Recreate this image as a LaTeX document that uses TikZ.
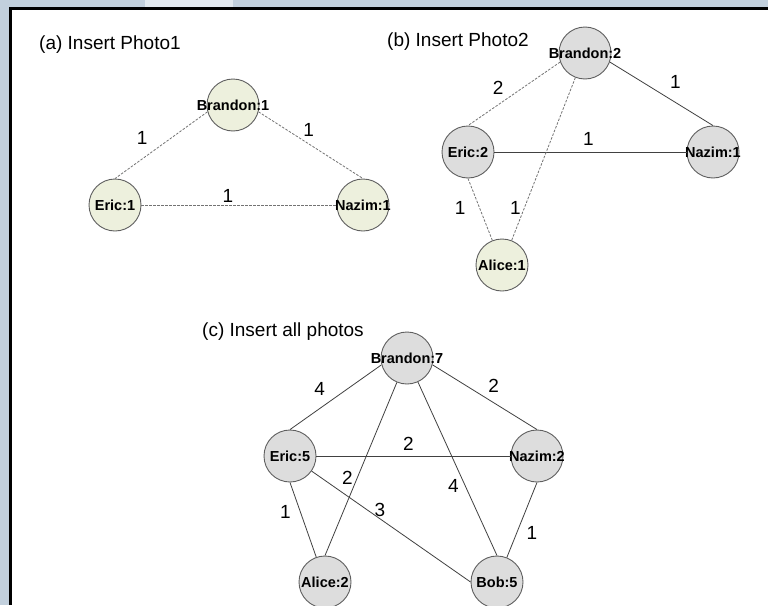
\documentclass[tikz,border=0pt]{standalone}
\usepackage{fontspec}
\setmainfont{Liberation Sans}
\usepackage{tikz}
\usetikzlibrary{positioning}
\definecolor{pagebg}{RGB}{194,208,221}
\definecolor{pagehl}{RGB}{226,233,239}
\definecolor{nodegreen}{RGB}{237,240,221}
\definecolor{nodegray}{RGB}{221,221,221}
\definecolor{rimgray}{RGB}{95,95,95}
\definecolor{linkgray}{RGB}{65,65,65}
\tikzset{
  vtx/.style   = {circle, draw=rimgray, line width=0.9pt, minimum size=52pt, inner sep=0pt, fill=nodegreen, font={\fontsize{14.5}{14.5}\selectfont\bfseries}},
  gvtx/.style  = {vtx, fill=nodegray},
  link/.style  = {draw=linkgray, line width=0.8pt},
  dlink/.style = {draw=black!55, line width=0.8pt, dash pattern=on 2.5pt off 1.5pt},
  wlab/.style  = {inner sep=0pt, font={\fontsize{19}{19}\selectfont}},
  ttl/.style   = {inner sep=0pt, anchor=west, font={\fontsize{19}{21}\selectfont}},
}
\newcommand{\vname}[1]{\makebox[0pt]{#1}}

\begin{document}
\begin{tikzpicture}[x=1pt, y=-1pt, on grid]
  \useasboundingbox (0,0) rectangle (768,605);
  \fill[pagebg] (0,0) rectangle (768,605);
  \fill[pagehl] (145,0) rectangle (233,8);
  \fill[white] (10,8) rectangle (768,605);
  \draw[line width=3pt] (10.5,605) -- (10.5,8.5) -- (768,8.5);

  \node[ttl] (ta) at (39,45) {(a) Insert Photo1};
  \node[vtx] (br1) at (233,105) {\vname{Brandon:1}};
  \node[vtx, below left=100pt and 118pt of br1] (er1) {\vname{Eric:1}};
  \node[vtx, right=248pt of er1] (nz1) {\vname{Nazim:1}};
  \draw[dlink] (br1.195) -- (er1.north) node[wlab, midway, shift={(-19,-7)}] (wa1) {1};
  \draw[dlink] (br1.-15) -- (nz1.north) node[wlab, midway, shift={(-2,-15)}] (wa2) {1};
  \draw[dlink] (er1) -- (nz1) node[wlab, midway, shift={(-11,-9)}] (wa3) {1};

  \node[ttl] (tb) at (387,42) {(b) Insert Photo2};
  \node[gvtx] (br2) at (585,53) {\vname{Brandon:2}};
  \node[gvtx, below left=99pt and 117pt of br2] (er2) {\vname{Eric:2}};
  \node[gvtx, right=245pt of er2] (nz2) {\vname{Nazim:1}};
  \node[vtx, below right=113pt and 34pt of er2] (al2) {\vname{Alice:1}};
  \draw[dlink] (br2.200) -- (er2.north) node[wlab, midway, shift={(-16,-6)}] (wb1) {2};
  \draw[link] (br2.-20) -- (nz2.north) node[wlab, midway, shift={(14,-12)}] (wb2) {1};
  \draw[link] (er2) -- (nz2) node[wlab, midway, shift={(-2,-13)}] (wb3) {1};
  \draw[dlink] (er2.south) -- (al2) node[wlab, midway, shift={(-20,-1)}] (wb4) {1};
  \draw[dlink] (br2) -- (al2) node[wlab, pos=0.8, shift={(-9,0)}] (wb5) {1};

  \node[ttl] (tc) at (202,332) {(c) Insert all photos};
  \node[gvtx] (br3) at (407,358) {\vname{Brandon:7}};
  \node[gvtx, below left=98pt and 117pt of br3] (er3) {\vname{Eric:5}};
  \node[gvtx, below right=98pt and 130pt of br3] (nz3) {\vname{Nazim:2}};
  \node[gvtx, below right=126pt and 35pt of er3] (al3) {\vname{Alice:2}};
  \node[gvtx, right=172pt of al3] (bob3) {\vname{Bob:5}};
  \draw[link] (br3.195) -- (er3.north) node[wlab, midway, shift={(-16,-8)}] (wc1) {4};
  \draw[link] (br3.-15) -- (nz3.north) node[wlab, midway, shift={(9,-11)}] (wc2) {2};
  \draw[link] (er3) -- (nz3) node[wlab, midway, shift={(-5,-12)}] (wc3) {2};
  \draw[link] (br3) -- (al3.north) node[wlab, pos=0.55, shift={(-10,0)}] (wc4) {2};
  \draw[link] (br3) -- (bob3.north) node[wlab, pos=0.6, shift={(-12,0)}] (wc5) {4};
  \draw[link] (er3) -- (bob3.west) node[wlab, pos=0.43, shift={(0,-9)}] (wc6) {3};
  \draw[link] (er3.south) -- (al3) node[wlab, pos=0.4, shift={(-15,0)}] (wc7) {1};
  \draw[link] (nz3.south) -- (bob3) node[wlab, pos=0.67, shift={(15,0)}] (wc8) {1};
\end{tikzpicture}
\end{document}
